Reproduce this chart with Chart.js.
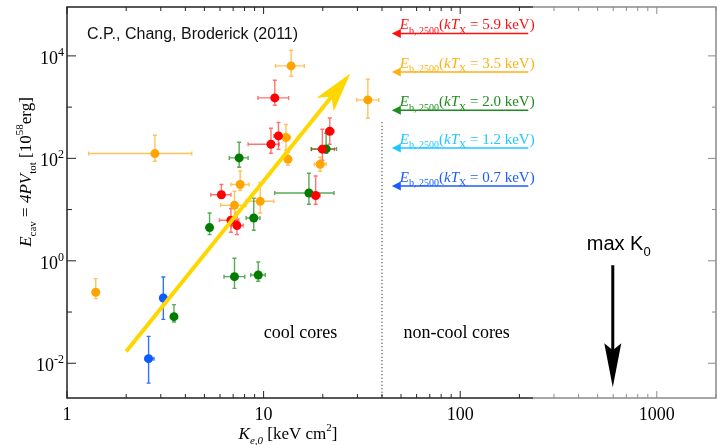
<!DOCTYPE html>
<html>
<head>
<meta charset="utf-8">
<script src="https://cdn.jsdelivr.net/npm/chart.js@4.4.0/dist/chart.umd.min.js"></script>
<style>
html, body { margin: 0; padding: 0; background: #fff; }
#wrap { width: 722px; height: 445px; }
</style>
</head>
<body>
<div id="wrap"><canvas id="cavChart"></canvas></div>
<script>
// K_e,0 [keV cm^2] vs E_cav [10^58 erg], with error ranges (null = no bar)
let redK   = [11.4, 11.9, 10.9, 21.7, 19.9, 6.10, 18.4, 6.82, 7.32];
let redE   = [1513, 274, 188, 338, 151, 19.5, 18.8, 6.18, 4.87];
let redKlo = [9.36, 11.27, 8.34, 20.7, 17.5, 5.39, 17.5, 5.96, 6.85];
let redKhi = [13.4, 12.6, 12.0, 22.8, 22.9, 6.82, 19.4, 7.48, 7.87];
let redElo = [1089, 150, 126, 188, 92, 16.6, 12.7, 3.6, 3.25];
let redEhi = [3351, 500, 387, 615, 370, 30.8, 45.3, 10.5, 8.86];

let orK   = [13.8, 33.9, 13.0, 2.80, 13.3, 19.4, 7.60, 7.11, 9.61, 1.40];
let orE   = [6380, 1383, 255, 124, 96, 76.7, 30.8, 12.1, 14.5, 0.243];
let orKlo = [11.5, 29.8, 12.2, 1.29, null, 18.1, 6.82, 6.05, 8.12, null];
let orKhi = [16.1, 38.5, 13.7, 4.31, null, 20.8, 8.44, 8.12, 11.27, null];
let orElo = [4015, 607, 144, 87.8, 73.3, 56, 23.8, 6.76, 8.58, 0.183];
let orEhi = [12920, 3508, 457, 283, 131.6, 105, 56.7, 22.8, 33.7, 0.449];

let grK   = [20.8, 7.51, 17.0, 5.31, 8.91, 7.11, 9.39, 3.50];
let grE   = [153, 102, 21.1, 4.45, 6.86, 0.491, 0.528, 0.0813];
let grKlo = [17.5, 6.69, 11.4, null, 8.15, 6.29, 8.60, null];
let grKhi = [23.5, 8.34, 22.8, null, 9.58, 8.02, 10.2, null];
let grElo = [126, 67, 12.7, 3.25, 3.94, 0.290, 0.398, 0.0638];
let grEhi = [309, 206, 51.2, 8.58, 16.6, 1.12, 0.947, 0.1395];

let blK   = [3.09, 2.60];
let blE   = [0.1876, 0.0123];
let blKlo = [null, 2.50];
let blKhi = [null, 2.77];
let blElo = [0.072, 0.0041];
let blEhi = [0.483, 0.0335];

// E_b,2500 arrows on the right
let ebTemps  = ['5.9', '3.5', '2.0', '1.2', '0.7'];
let ebValues = [27400, 4870, 869, 160, 28.9];
let ebColors = ['#ff1010', '#ffb014', '#1e8c1e', '#1ec8ff', '#1a5cff'];
let ebKfrom = 222, ebKto = 44.9;

// yellow trend arrow, cool-core divider, max K0 arrow
let trendFrom = [2.0, 0.017], trendTo = [27.6, 4530];
let coolLimitK = 40, coolLimitTop = 507;
let maxK0 = 597, maxK0Top = 0.82, maxK0Tip = 0.0034;

let xTickLabels = [1, 10, 100, 1000];
let yTickExps = [-2, 0, 2, 4];

let groups = [
    {k: redK, e: redE, klo: redKlo, khi: redKhi, elo: redElo, ehi: redEhi, dot: '#ff0000', bar: 'rgba(255,20,20,0.6)'},
    {k: orK, e: orE, klo: orKlo, khi: orKhi, elo: orElo, ehi: orEhi, dot: '#ffa500', bar: 'rgba(255,170,20,0.7)'},
    {k: grK, e: grE, klo: grKlo, khi: grKhi, elo: grElo, ehi: grEhi, dot: '#007d00', bar: 'rgba(0,125,0,0.65)'},
    {k: blK, e: blE, klo: blKlo, khi: blKhi, elo: blElo, ehi: blEhi, dot: '#0a5cff', bar: 'rgba(10,92,255,0.85)'}
];

function isPow10(v) {
    let l = Math.log10(v);
    return Math.abs(l - Math.round(l)) < 1e-9;
}

// draws a run of text pieces with italic / sub / sup
function richText(ctx, parts, x, y, size, align, family) {
    family = family || '"Liberation Serif"';
    let w = 0;
    let items = parts.map(function(p) {
        let s = p.s ? Math.round(size * 0.64) : size;
        let font = (p.i ? 'italic ' : '') + s + 'px ' + family;
        ctx.font = font;
        let pw = ctx.measureText(p.t).width;
        w += pw;
        let dy = p.s === 'sub' ? size * 0.3 : (p.s === 'sup' ? -size * 0.45 : 0);
        return {t: p.t, font: font, pw: pw, dy: dy};
    });
    let cx = align === 'center' ? x - w / 2 : (align === 'right' ? x - w : x);
    ctx.textAlign = 'left';
    ctx.textBaseline = 'alphabetic';
    items.forEach(function(it) {
        ctx.font = it.font;
        ctx.fillText(it.t, cx, y + it.dy);
        cx += it.pw;
    });
}

function arrowHead(ctx, tx, ty, ux, uy, len, half, notch) {
    let px = -uy, py = ux;
    let bx = tx - ux * len, by = ty - uy * len;
    ctx.beginPath();
    ctx.moveTo(tx, ty);
    ctx.lineTo(bx + px * half, by + py * half);
    ctx.lineTo(tx - ux * (len - notch), ty - uy * (len - notch));
    ctx.lineTo(bx - px * half, by - py * half);
    ctx.closePath();
    ctx.fill();
}

let errorBars = {
    id: 'errorBars',
    beforeDatasetsDraw: function(chart) {
        let ctx = chart.ctx, xs = chart.scales.x, ys = chart.scales.y;
        ctx.save();
        ctx.lineWidth = 1.4;
        groups.forEach(function(g) {
            ctx.strokeStyle = g.bar;
            for (let i = 0; i < g.k.length; i++) {
                let px = xs.getPixelForValue(g.k[i]);
                let py = ys.getPixelForValue(g.e[i]);
                ctx.beginPath();
                if (g.klo[i] !== null) {
                    let x1 = xs.getPixelForValue(g.klo[i]), x2 = xs.getPixelForValue(g.khi[i]);
                    ctx.moveTo(x1, py); ctx.lineTo(x2, py);
                    ctx.moveTo(x1, py - 2); ctx.lineTo(x1, py + 2);
                    ctx.moveTo(x2, py - 2); ctx.lineTo(x2, py + 2);
                }
                let y1 = ys.getPixelForValue(g.elo[i]), y2 = ys.getPixelForValue(g.ehi[i]);
                ctx.moveTo(px, y1); ctx.lineTo(px, y2);
                ctx.moveTo(px - 2, y1); ctx.lineTo(px + 2, y1);
                ctx.moveTo(px - 2, y2); ctx.lineTo(px + 2, y2);
                ctx.stroke();
            }
        });
        ctx.restore();
    },
    afterDatasetsDraw: function(chart) {
        let ctx = chart.ctx, xs = chart.scales.x, ys = chart.scales.y;
        // yellow arrow
        let x1 = xs.getPixelForValue(trendFrom[0]), y1 = ys.getPixelForValue(trendFrom[1]);
        let x2 = xs.getPixelForValue(trendTo[0]), y2 = ys.getPixelForValue(trendTo[1]);
        let len = Math.hypot(x2 - x1, y2 - y1);
        let ux = (x2 - x1) / len, uy = (y2 - y1) / len;
        ctx.save();
        ctx.strokeStyle = '#ffd700';
        ctx.fillStyle = '#ffd700';
        ctx.lineWidth = 4;
        ctx.beginPath();
        ctx.moveTo(x1, y1);
        ctx.lineTo(x2 - ux * 30, y2 - uy * 30);
        ctx.stroke();
        arrowHead(ctx, x2, y2, ux, uy, 40, 11, 10);
        ctx.restore();
    }
};

let decorations = {
    id: 'decorations',
    afterDraw: function(chart) {
        let ctx = chart.ctx, xs = chart.scales.x, ys = chart.scales.y;
        let a = chart.chartArea;
        let split = xs.getPixelForValue(235);
        let dark = '#222', light = '#8a8a8a';
        ctx.save();

        // frame
        ctx.lineWidth = 1.5;
        ctx.strokeStyle = dark;
        ctx.beginPath();
        ctx.moveTo(split, a.top); ctx.lineTo(a.left, a.top); ctx.lineTo(a.left, a.bottom); ctx.lineTo(split, a.bottom);
        ctx.stroke();
        ctx.strokeStyle = light;
        ctx.beginPath();
        ctx.moveTo(split, a.top); ctx.lineTo(a.right, a.top); ctx.lineTo(a.right, a.bottom); ctx.lineTo(split, a.bottom);
        ctx.stroke();

        // x ticks, inward, top and bottom
        ctx.lineWidth = 1;
        for (let d = 1; d <= 1000; d *= 10) {
            for (let m = 1; m <= 9; m++) {
                let v = d * m;
                if (v > xs.max) break;
                let px = xs.getPixelForValue(v);
                let l = m === 1 ? 7 : 4;
                ctx.strokeStyle = px > split + 1 ? light : dark;
                ctx.beginPath();
                ctx.moveTo(px, a.bottom); ctx.lineTo(px, a.bottom - l);
                ctx.moveTo(px, a.top); ctx.lineTo(px, a.top + l);
                ctx.stroke();
            }
        }
        // y ticks, every decade
        for (let e = -2; e <= 4; e++) {
            let py = ys.getPixelForValue(Math.pow(10, e));
            let l = e % 2 === 0 ? 9 : 5;
            ctx.strokeStyle = dark;
            ctx.beginPath(); ctx.moveTo(a.left, py); ctx.lineTo(a.left + l, py); ctx.stroke();
            ctx.strokeStyle = light;
            ctx.beginPath(); ctx.moveTo(a.right, py); ctx.lineTo(a.right - l + 1, py); ctx.stroke();
        }

        // y labels 10^n
        ctx.fillStyle = '#000';
        yTickExps.forEach(function(e) {
            let py = ys.getPixelForValue(Math.pow(10, e));
            richText(ctx, [{t: '10'}, {t: String(e), s: 'sup'}], a.left - 3, py + 8, 18, 'right');
        });

        // axis titles
        richText(ctx, [{t: 'K', i: 1}, {t: 'e,0', s: 'sub', i: 1}, {t: ' [keV cm'}, {t: '2', s: 'sup'}, {t: ']'}], 288, 439, 17, 'center');
        ctx.save();
        ctx.translate(25, 172);
        ctx.rotate(-Math.PI / 2);
        richText(ctx, [{t: 'E', i: 1}, {t: 'cav', s: 'sub'}, {t: ' = '}, {t: '4PV', i: 1}, {t: 'tot', s: 'sub'},
            {t: ' [10'}, {t: '58', s: 'sup'}, {t: 'erg]'}], 0, 6, 17, 'center');
        ctx.restore();

        // reference label
        ctx.fillStyle = '#111';
        ctx.font = '16px "Liberation Sans"';
        ctx.textAlign = 'left';
        ctx.fillText('C.P., Chang, Broderick (2011)', 87, 39);

        // E_b,2500 arrows
        ebValues.forEach(function(v, i) {
            let py = ys.getPixelForValue(v);
            let xt = xs.getPixelForValue(ebKto), xf = xs.getPixelForValue(ebKfrom);
            ctx.strokeStyle = ebColors[i];
            ctx.fillStyle = ebColors[i];
            ctx.lineWidth = 1.5;
            ctx.beginPath(); ctx.moveTo(xf, py); ctx.lineTo(xt + 6, py); ctx.stroke();
            arrowHead(ctx, xt, py, -1, 0, 9, 4.5, 0);
            richText(ctx, [{t: 'E', i: 1}, {t: 'b, 2500', s: 'sub'}, {t: '('}, {t: 'kT', i: 1}, {t: 'X', s: 'sub'},
                {t: ' = ' + ebTemps[i] + ' keV)'}], xt + 8, py - 4, 15, 'left');
        });

        // cool core divider
        let dx = xs.getPixelForValue(coolLimitK);
        ctx.strokeStyle = '#000';
        ctx.lineWidth = 1;
        ctx.setLineDash([1, 2.5]);
        ctx.beginPath(); ctx.moveTo(dx, ys.getPixelForValue(coolLimitTop)); ctx.lineTo(dx, a.bottom); ctx.stroke();
        ctx.setLineDash([]);

        ctx.fillStyle = '#000';
        ctx.font = '18px "Liberation Serif"';
        ctx.textAlign = 'center';
        ctx.fillText('cool cores', xs.getPixelForValue(15.4), ys.getPixelForValue(0.0306));
        ctx.fillText('non-cool cores', xs.getPixelForValue(95.9), ys.getPixelForValue(0.0306));

        // max K0 arrow
        let mx = xs.getPixelForValue(maxK0);
        let mt = ys.getPixelForValue(maxK0Top), mb = ys.getPixelForValue(maxK0Tip);
        ctx.strokeStyle = '#000';
        ctx.lineWidth = 3;
        ctx.beginPath(); ctx.moveTo(mx, mt); ctx.lineTo(mx, mb - 30); ctx.stroke();
        arrowHead(ctx, mx, mb, 0, 1, 44, 8.5, 7);
        richText(ctx, [{t: 'max K'}, {t: '0', s: 'sub'}], mx - 26, mt - 15, 20, 'left', '"Liberation Sans"');

        ctx.restore();
    }
};

let datasets = groups.map(function(g) {
    return {
        data: g.k.map(function(v, i) { return {x: v, y: g.e[i]}; }),
        backgroundColor: g.dot,
        borderColor: g.dot,
        borderWidth: 0,
        pointRadius: 4.5,
        pointHoverRadius: 4.5
    };
});

let cavChart = new Chart(document.getElementById('cavChart'), {
    type: 'scatter',
    data: {datasets: datasets},
    plugins: [errorBars, decorations],
    options: {
        responsive: true,
        maintainAspectRatio: false,
        animation: false,
        layout: {padding: {top: 7, right: 1, left: 0, bottom: 0}},
        plugins: {legend: {display: false}, tooltip: {enabled: false}},
        scales: {
            x: {
                type: 'logarithmic',
                min: 1,
                max: 2000,
                grid: {display: false, drawTicks: false},
                border: {display: false},
                ticks: {
                    autoSkip: false,
                    maxRotation: 0,
                    padding: 6,
                    color: '#000',
                    font: {family: 'Liberation Serif', size: 18},
                    callback: function(v) {
                        return (isPow10(v) && xTickLabels.indexOf(Math.round(v)) >= 0) ? String(Math.round(v)) : '';
                    }
                },
                afterFit: function(s) { s.height = 47; }
            },
            y: {
                type: 'logarithmic',
                min: 0.0021,
                max: 90000,
                grid: {display: false, drawTicks: false},
                border: {display: false},
                ticks: {display: false},
                afterFit: function(s) { s.width = 67; }
            }
        }
    }
});
</script>
</body>
</html>
